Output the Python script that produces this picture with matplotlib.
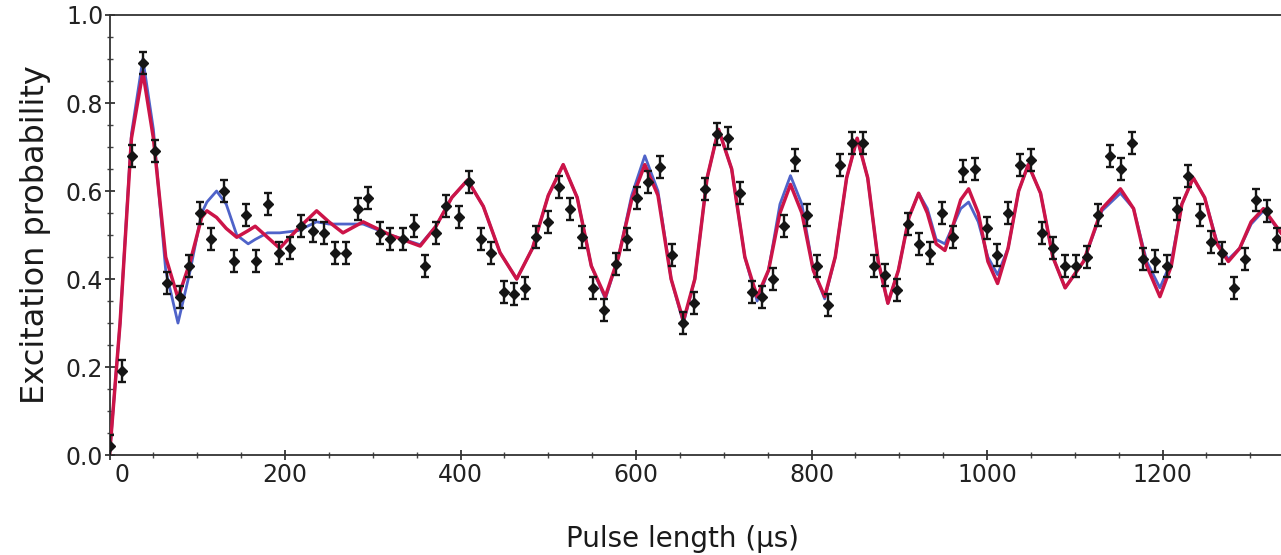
import matplotlib
matplotlib.use("Agg")
import matplotlib.pyplot as plt
from matplotlib.ticker import MultipleLocator, FormatStrFormatter
from matplotlib.transforms import ScaledTranslation

# measured points (pulse length in us, excitation probability)
pulse_us = [0, 14, 26, 38, 52, 65, 80, 91, 103, 116, 131, 142, 155, 167, 181, 193,
            206, 218, 232, 244, 257, 270, 283, 295, 308, 320, 334, 347, 359, 372,
            384, 398, 410, 423, 435, 449, 461, 474, 486, 500, 512, 525, 538, 551,
            564, 577, 590, 601, 614, 627, 641, 653, 666, 679, 692, 705, 718, 732,
            744, 756, 769, 781, 795, 806, 819, 832, 846, 859, 871, 884, 897, 910,
            923, 935, 949, 961, 973, 986, 1000, 1011, 1024, 1038, 1050, 1063, 1075,
            1089, 1101, 1114, 1127, 1140, 1153, 1165, 1178, 1191, 1205, 1216, 1229,
            1243, 1255, 1268, 1281, 1294, 1307, 1319, 1331]
prob = [0.02, 0.19, 0.68, 0.89, 0.69, 0.39, 0.36, 0.43, 0.55, 0.49, 0.60, 0.44,
        0.545, 0.44, 0.57, 0.46, 0.47, 0.52, 0.51, 0.505, 0.46, 0.46, 0.56, 0.585,
        0.505, 0.49, 0.49, 0.52, 0.43, 0.505, 0.565, 0.54, 0.62, 0.49, 0.46, 0.37,
        0.365, 0.38, 0.495, 0.53, 0.61, 0.56, 0.495, 0.38, 0.33, 0.435, 0.49, 0.585,
        0.62, 0.655, 0.455, 0.30, 0.345, 0.605, 0.73, 0.72, 0.595, 0.37, 0.36, 0.40,
        0.52, 0.67, 0.545, 0.43, 0.34, 0.66, 0.71, 0.71, 0.43, 0.41, 0.375, 0.525,
        0.48, 0.46, 0.55, 0.495, 0.645, 0.65, 0.515, 0.455, 0.55, 0.66, 0.67, 0.505,
        0.47, 0.43, 0.43, 0.45, 0.545, 0.68, 0.65, 0.71, 0.445, 0.44, 0.43, 0.56,
        0.635, 0.545, 0.485, 0.46, 0.38, 0.445, 0.58, 0.555, 0.49]
prob_err = 0.025

# fitted curves
curve_us = [0, 12, 25, 38, 50, 64, 78, 92, 105, 111, 122, 133, 145, 158, 166, 180,
            194, 215, 236, 250, 266, 289, 320, 354, 372, 390, 408, 426, 445, 464,
            482, 500, 517, 533, 549, 565, 580, 595, 610, 625, 640, 654, 667, 681,
            694, 709, 724, 738, 751, 764, 776, 789, 802, 815, 827, 840, 852, 864,
            876, 887, 899, 911, 922, 932, 942, 952, 961, 970, 979, 990, 1001, 1012,
            1024, 1036, 1047, 1061, 1075, 1089, 1110, 1131, 1152, 1167, 1182, 1197,
            1210, 1222, 1235, 1248, 1262, 1275, 1288, 1301, 1315, 1335]
red_fit = [0.00, 0.30, 0.72, 0.87, 0.72, 0.45, 0.357, 0.44, 0.54, 0.555, 0.54,
           0.515, 0.495, 0.51, 0.52, 0.495, 0.47, 0.515, 0.555, 0.53, 0.505, 0.53,
           0.50, 0.475, 0.52, 0.585, 0.625, 0.565, 0.46, 0.40, 0.47, 0.59, 0.66,
           0.585, 0.43, 0.36, 0.45, 0.58, 0.66, 0.59, 0.40, 0.305, 0.40, 0.63, 0.74,
           0.65, 0.45, 0.36, 0.42, 0.55, 0.615, 0.55, 0.42, 0.36, 0.45, 0.63, 0.72,
           0.63, 0.44, 0.345, 0.42, 0.54, 0.595, 0.55, 0.48, 0.465, 0.52, 0.58,
           0.605, 0.55, 0.44, 0.39, 0.47, 0.60, 0.66, 0.595, 0.45, 0.38, 0.44, 0.56,
           0.605, 0.56, 0.43, 0.36, 0.43, 0.57, 0.63, 0.585, 0.48, 0.44, 0.47, 0.53,
           0.56, 0.505]
blue_fit = [0.00, 0.30, 0.73, 0.90, 0.74, 0.42, 0.30, 0.42, 0.55, 0.575, 0.60,
            0.57, 0.50, 0.48, 0.49, 0.505, 0.505, 0.51, 0.53, 0.525, 0.525, 0.525,
            0.50, 0.478, 0.52, 0.585, 0.625, 0.565, 0.46, 0.40, 0.47, 0.59, 0.66,
            0.585, 0.43, 0.355, 0.45, 0.59, 0.68, 0.60, 0.40, 0.30, 0.40, 0.63, 0.74,
            0.65, 0.45, 0.35, 0.42, 0.57, 0.635, 0.57, 0.42, 0.355, 0.45, 0.63, 0.72,
            0.63, 0.44, 0.345, 0.42, 0.54, 0.595, 0.56, 0.49, 0.48, 0.52, 0.56,
            0.575, 0.53, 0.45, 0.41, 0.47, 0.60, 0.66, 0.595, 0.45, 0.38, 0.44, 0.555,
            0.595, 0.56, 0.44, 0.38, 0.44, 0.57, 0.63, 0.585, 0.485, 0.445, 0.47,
            0.525, 0.555, 0.505]

x_ticks = [0, 200, 400, 600, 800, 1000, 1200]

plt.rcParams['font.family'] = ['DejaVu Sans']
fig = plt.figure(figsize=(12.81, 5.55), dpi=100)
ax = fig.add_axes([0.0855, 0.180, 0.9145, 0.793])

ax.plot(curve_us, blue_fit, color='#4f63c9', lw=2.0, zorder=2)
ax.plot(curve_us, red_fit, color='#cc1448', lw=2.5, zorder=3)
ax.errorbar(pulse_us, prob, yerr=prob_err, fmt='D', ms=5, color='#151515',
            ecolor='#151515', elinewidth=1.7, capsize=3, capthick=1.7, zorder=4)

ax.set_xlim(0, 1335)
ax.set_ylim(0, 1.0)
ax.set_xticks(x_ticks)
ax.xaxis.set_minor_locator(MultipleLocator(50))
ax.yaxis.set_major_locator(MultipleLocator(0.2))
ax.yaxis.set_minor_locator(MultipleLocator(0.05))
ax.yaxis.set_major_formatter(FormatStrFormatter('%.1f'))
ax.tick_params(which='major', direction='inout', length=7, width=1.2,
               labelsize=17, pad=2, colors='#222222')
ax.tick_params(which='minor', direction='inout', length=4, width=1.0, colors='#444444')
ax.tick_params(axis='y', pad=1)
ax.spines['right'].set_visible(False)
for s in ('left', 'top', 'bottom'):
    ax.spines[s].set_linewidth(1.3)
    ax.spines[s].set_color('#333333')

ax.set_xlabel('Pulse length (µs)', fontsize=20, color='#1a1a1a')
ax.set_ylabel('Excitation probability', fontsize=23, color='#1a1a1a')
ax.xaxis.set_label_coords(0.489, -0.158)
ax.yaxis.set_label_coords(-0.050, 0.5)

# the "0" label sits a little right of its tick in the original
first = ax.xaxis.get_major_ticks()[0].label1
first.set_transform(first.get_transform() + ScaledTranslation(0.12, 0, fig.dpi_scale_trans))

fig.savefig('out.png', dpi=100)
